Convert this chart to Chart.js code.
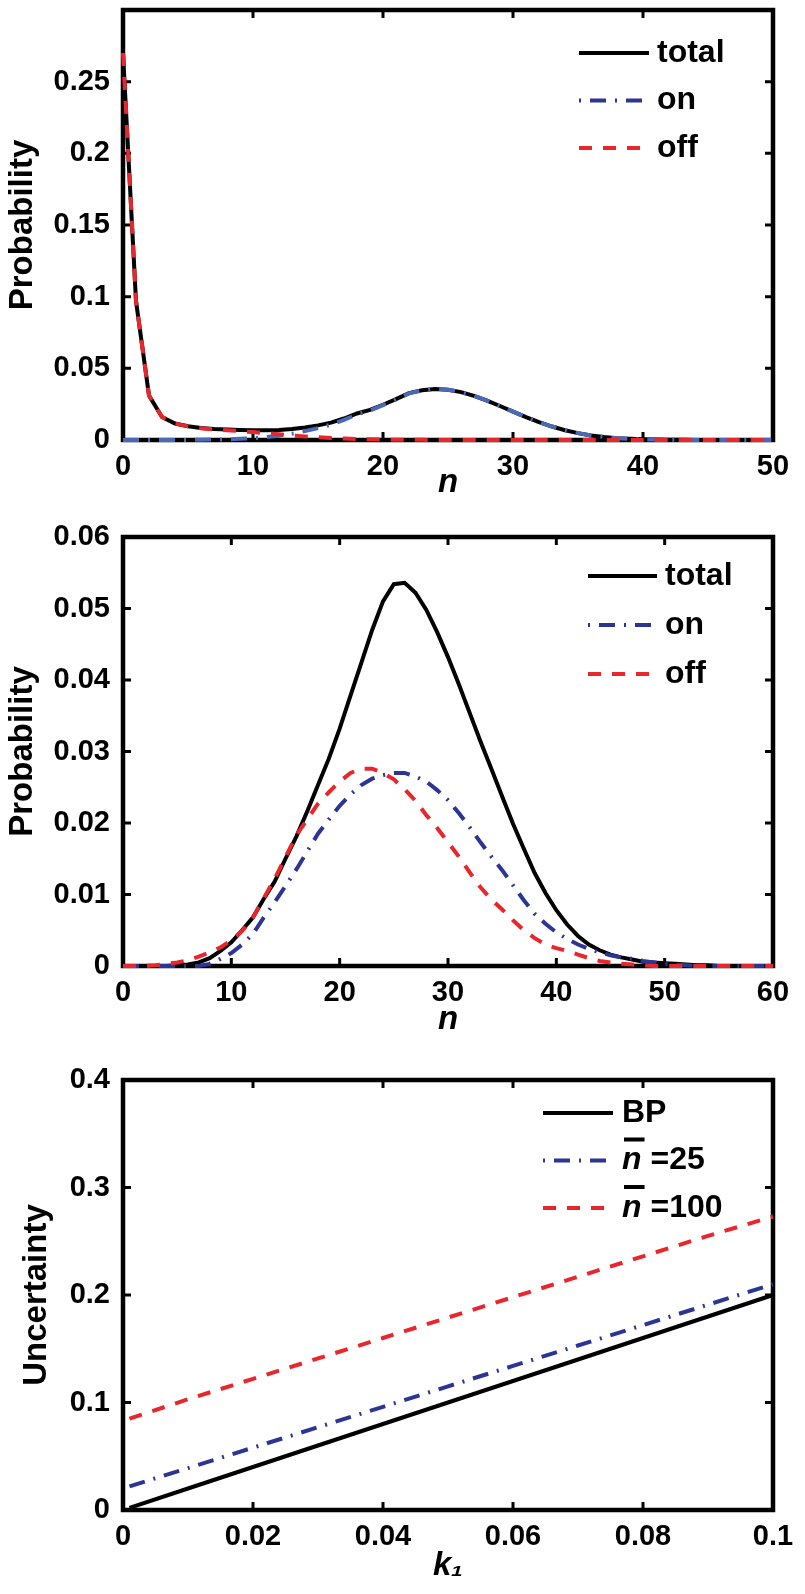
<!DOCTYPE html>
<html>
<head>
<meta charset="utf-8">
<script src="https://cdn.jsdelivr.net/npm/chart.js@4.4.0/dist/chart.umd.min.js"></script>
<style>
html, body { margin: 0; padding: 0; background: #fff; }
body { width: 805px; height: 1594px; position: relative; overflow: hidden; }
.panel { position: absolute; left: 0; width: 805px; }
</style>
</head>
<body>
<div class="panel" style="top:0;height:530px"><canvas id="chartA" width="805" height="530"></canvas></div>
<div class="panel" style="top:500px;height:557px"><canvas id="chartB" width="805" height="557"></canvas></div>
<div class="panel" style="top:1045px;height:549px"><canvas id="chartC" width="805" height="549"></canvas></div>
<script>
// ---- panel A : distribution with off-state spike ----
var nA = [0,1,2,3,4,5,6,7,8,9,10,11,12,13,14,15,16,17,18,19,20,21,22,23,24,25,
          26,27,28,29,30,31,32,33,34,35,36,37,38,39,40,41,42,43,44,45,46,47,48,49,50];
var totalA = [0.27,0.097,0.031,0.016,0.0115,0.0096,0.0084,0.0077,0.0073,0.0070,0.0068,0.0068,0.0070,
              0.0076,0.0087,0.0102,0.0121,0.0150,0.0185,0.0210,0.0246,0.0285,0.0327,0.0347,0.0355,
              0.0350,0.0334,0.0308,0.0275,0.0237,0.0198,0.0160,0.0125,0.0094,0.0068,0.0048,0.0032,
              0.0021,0.0013,0.0008,0.0005,0.0003,0.0002,0.0001,0,0,0,0,0,0,0];
var onA = [0,0,0,0,0,0.0001,0.0002,0.0003,0.0005,0.0008,0.0013,0.0020,0.0030,0.0044,0.0062,0.0083,
           0.0107,0.0140,0.0178,0.0205,0.0243,0.0283,0.0325,0.0346,0.0355,0.0350,0.0334,0.0308,0.0275,
           0.0237,0.0198,0.0160,0.0125,0.0094,0.0068,0.0048,0.0032,0.0021,0.0013,0.0008,0.0005,0.0003,
           0.0002,0.0001,0,0,0,0,0,0,0];
var offA = [0.27,0.097,0.031,0.016,0.0115,0.0095,0.0082,0.0074,0.0068,0.0062,0.0055,0.0048,0.0040,
            0.0032,0.0025,0.0019,0.0014,0.0010,0.0007,0.0005,0.0003,0.0002,0.0002,0.0001,0,0,0,0,0,
            0,0,0,0,0,0,0,0,0,0,0,0,0,0,0,0,0,0,0,0,0,0];

// ---- panel B : unimodal case ----
var nB = [0,1,2,3,4,5,6,7,8,9,10,11,12,13,14,15,16,17,18,19,20,21,22,23,24,25,26,27,28,29,30,
          31,32,33,34,35,36,37,38,39,40,41,42,43,44,45,46,47,48,49,50,51,52,53,54,55,56,57,58,59,60];
var totalB = [0,0,0,0,0,0.0001,0.0002,0.0005,0.0011,0.0021,0.0033,0.0050,0.0068,0.0094,0.0118,0.0150,
              0.0181,0.0216,0.0253,0.0290,0.0332,0.0378,0.0424,0.0470,0.0510,0.0534,0.0536,0.0522,
              0.0498,0.0467,0.0432,0.0394,0.0354,0.0314,0.0276,0.0237,0.0199,0.0164,0.0130,0.0102,
              0.0078,0.0058,0.0042,0.0030,0.0022,0.0016,0.0012,0.0009,0.0006,0.0005,0.0004,0.0003,
              0.0002,0.0001,0.0001,0,0,0,0,0,0];
var onB = [0,0,0,0,0,0,0,0,0.0003,0.0010,0.0018,0.0030,0.0045,0.0068,0.0089,0.0112,0.0135,0.0160,
           0.0185,0.0205,0.0224,0.0240,0.0253,0.0262,0.0267,0.0270,0.0270,0.0265,0.0258,0.0246,0.0232,
           0.0214,0.0194,0.0173,0.0153,0.0134,0.0113,0.0092,0.0073,0.0059,0.0047,0.0038,0.0030,0.0024,
           0.0019,0.0015,0.0012,0.0010,0.0007,0.0005,0.0003,0.0002,0.0001,0,0,0,0,0,0,0,0];
var offB = [0,0,0,0.0001,0.0003,0.0005,0.0008,0.0013,0.0019,0.0026,0.0036,0.0049,0.0068,0.0095,0.0122,
            0.0152,0.0183,0.0205,0.0227,0.0243,0.0258,0.0270,0.0276,0.0276,0.0270,0.0261,0.0247,0.0231,
            0.0211,0.0193,0.0173,0.0153,0.0131,0.0110,0.0093,0.0079,0.0064,0.0050,0.0039,0.0030,0.0025,
            0.0021,0.0016,0.0011,0.0007,0.0005,0.0003,0.0002,0.0001,0,0,0,0,0,0,0,0,0,0,0,0];

// ---- panel C : uncertainty vs k1 ----
var k1 = [0.001,0.01,0.02,0.03,0.04,0.05,0.06,0.07,0.08,0.09,0.1];
var bp = [0.002,0.02,0.04,0.06,0.08,0.10,0.12,0.14,0.16,0.18,0.20];
var nbar25 = [0.022,0.039,0.058,0.077,0.096,0.115,0.134,0.153,0.172,0.191,0.210];
var nbar100 = [0.085,0.103,0.122,0.141,0.160,0.179,0.198,0.217,0.236,0.255,0.273];

var FONT = "'Liberation Sans', Arial, Helvetica, sans-serif";
var BLACK = '#000000', BLUE = '#2b3593', RED = '#e8262c';

function pts(xs, ys) {
    return xs.map(function (x, i) { return { x: x, y: ys[i] }; });
}

function fmt(v) {
    return String(parseFloat(v.toFixed(4)));
}

// box + inward ticks, drawn under the curves like matlab
var framePlugin = {
    id: 'frame',
    beforeDatasetsDraw: function (chart) {
        var a = chart.chartArea, ctx = chart.ctx;
        var xs = chart.scales.x, ys = chart.scales.y;
        ctx.save();
        ctx.strokeStyle = '#000';
        ctx.lineWidth = 3;
        ctx.beginPath();
        xs.ticks.forEach(function (t) {
            var px = xs.getPixelForValue(t.value);
            ctx.moveTo(px, a.top); ctx.lineTo(px, a.top + 8);
            ctx.moveTo(px, a.bottom); ctx.lineTo(px, a.bottom - 8);
        });
        ys.ticks.forEach(function (t) {
            var py = ys.getPixelForValue(t.value);
            ctx.moveTo(a.left, py); ctx.lineTo(a.left + 8, py);
            ctx.moveTo(a.right, py); ctx.lineTo(a.right - 8, py);
        });
        ctx.stroke();
        ctx.lineWidth = 4.5;
        ctx.strokeRect(a.left, a.top, a.right - a.left, a.bottom - a.top);
        ctx.restore();
    }
};

// legend drawn inside the axes, with the real dash patterns
var keyPlugin = {
    id: 'key',
    afterDatasetsDraw: function (chart, args, opts) {
        var ctx = chart.ctx;
        ctx.save();
        chart.data.datasets.forEach(function (ds, i) {
            var y = opts.y + i * opts.gap;
            ctx.beginPath();
            ctx.strokeStyle = ds.keyColor || ds.borderColor;
            ctx.lineWidth = ds.borderWidth;
            ctx.setLineDash(ds.borderDash || []);
            ctx.lineDashOffset = ds.keyDashOffset || 0;
            ctx.moveTo(opts.x, y);
            ctx.lineTo(opts.x + opts.len, y);
            ctx.stroke();
            ctx.setLineDash([]);
            ctx.fillStyle = '#000';
            ctx.textBaseline = 'middle';
            ctx.textAlign = 'left';
            var tx = opts.textX, label = ds.label;
            if (label.indexOf('n\u0304') === 0) {
                ctx.font = 'italic bold 32px ' + FONT;
                var w = ctx.measureText('n').width;
                ctx.fillText('n', tx, y);
                ctx.fillRect(tx + 2, y - 23, w + 1, 4);
                ctx.font = 'bold 32px ' + FONT;
                ctx.fillText(label.slice(2), tx + w, y);
            } else {
                ctx.font = 'bold 32px ' + FONT;
                ctx.fillText(label, tx, y);
            }
        });
        ctx.restore();
    }
};

function lineSet(label, xs, ys, color, dash, order, keyColor) {
    return {
        label: label,
        data: pts(xs, ys),
        borderColor: color,
        keyColor: keyColor,
        borderWidth: 4,
        borderDash: dash,
        keyDashOffset: dash.length === 4 ? 25 : 0,
        pointRadius: 0,
        tension: 0,
        fill: false,
        clip: false,
        order: order
    };
}

function makeChart(id, cfg) {
    var tickFont = { family: FONT, size: 29, weight: 'bold' };
    new Chart(document.getElementById(id).getContext('2d'), {
        type: 'line',
        data: { datasets: cfg.datasets },
        plugins: [framePlugin, keyPlugin],
        options: {
            responsive: false,
            animation: false,
            events: [],
            layout: { padding: { top: cfg.top, right: 32, bottom: 0, left: 0 } },
            plugins: {
                legend: { display: false },
                tooltip: { enabled: false },
                key: cfg.key
            },
            scales: {
                x: {
                    type: 'linear',
                    min: cfg.xMin, max: cfg.xMax,
                    grid: { display: false, drawTicks: false },
                    border: { display: false },
                    ticks: {
                        stepSize: cfg.xStep, padding: 10, color: '#000', font: tickFont,
                        maxRotation: 0, autoSkip: false,
                        callback: function (v) { return fmt(v); }
                    },
                    title: {
                        display: true, text: cfg.xTitle, color: '#000',
                        font: { family: FONT, size: 33, weight: 'bold', style: 'italic' },
                        padding: { top: 0, bottom: cfg.xTitlePad }
                    },
                    afterFit: function (s) { s.height = cfg.xHeight; s.paddingLeft = 0; s.paddingRight = 0; }
                },
                y: {
                    type: 'linear',
                    min: cfg.yMin, max: cfg.yMax,
                    grid: { display: false, drawTicks: false },
                    border: { display: false },
                    ticks: {
                        stepSize: cfg.yStep, padding: 13, color: '#000', font: tickFont,
                        callback: function (v) { return (cfg.yHideTop && v > cfg.yMax - 1e-9) ? '' : fmt(v); }
                    },
                    title: {
                        display: true, text: cfg.yTitle, color: '#000',
                        font: { family: FONT, size: 33, weight: 'bold' },
                        padding: { top: cfg.yTitlePad, bottom: 0 }
                    },
                    afterFit: function (s) { s.width = 123; s.paddingTop = 0; s.paddingBottom = 0; }
                }
            }
        }
    });
}

makeChart('chartA', {
    datasets: [
        lineSet('total', nA, totalA, BLACK, [], 3),
        lineSet('on', nA, onA, '#4a6ab5', [16, 9, 2, 9], 2, BLUE),
        lineSet('off', nA, offA, RED, [13, 11], 1)
    ],
    top: 10,
    key: { x: 579, y: 53, gap: 47.5, len: 70, textX: 657 },
    xMin: 0, xMax: 50, xStep: 10, xTitle: 'n', xTitlePad: 27, xHeight: 90,
    yMin: 0, yMax: 0.3, yStep: 0.05, yHideTop: true, yTitle: 'Probability', yTitlePad: 3
});

makeChart('chartB', {
    datasets: [
        lineSet('total', nB, totalB, BLACK, [], 3),
        lineSet('on', nB, onB, BLUE, [16, 9, 2, 9], 2),
        lineSet('off', nB, offB, RED, [13, 11], 1)
    ],
    top: 37,
    key: { x: 588, y: 76, gap: 49, len: 69, textX: 665 },
    xMin: 0, xMax: 60, xStep: 10, xTitle: 'n', xTitlePad: 17, xHeight: 91,
    yMin: 0, yMax: 0.06, yStep: 0.01, yHideTop: false, yTitle: 'Probability', yTitlePad: 3
});

makeChart('chartC', {
    datasets: [
        lineSet('BP', k1, bp, BLACK, [], 3),
        lineSet('n\u0304 =25', k1, nbar25, BLUE, [16, 9, 2, 9], 2),
        lineSet('n\u0304 =100', k1, nbar100, RED, [13, 11], 1)
    ],
    top: 35,
    key: { x: 543, y: 68, gap: 47.5, len: 70, textX: 622 },
    xMin: 0, xMax: 0.1, xStep: 0.02, xTitle: 'k\u2081', xTitlePad: 8, xHeight: 84,
    yMin: 0, yMax: 0.4, yStep: 0.1, yHideTop: false, yTitle: 'Uncertainty', yTitlePad: 17
});
</script>
</body>
</html>
